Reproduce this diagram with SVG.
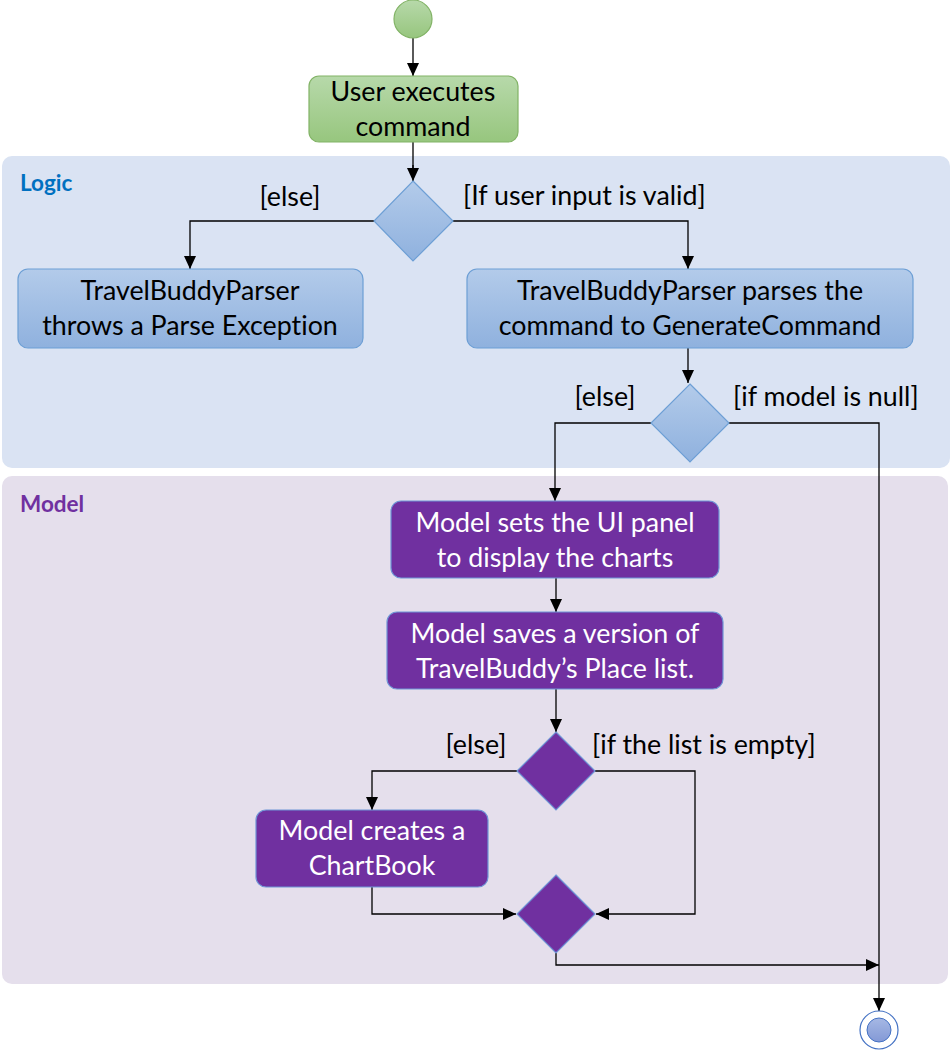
<svg xmlns="http://www.w3.org/2000/svg" width="951" height="1051" viewBox="0 0 951 1051">
<defs>
<linearGradient id="gGreen" x1="0" y1="0" x2="0" y2="1"><stop offset="0" stop-color="#b7d9aa"/><stop offset="1" stop-color="#97c67e"/></linearGradient>
<linearGradient id="gBlue" x1="0" y1="0" x2="0" y2="1"><stop offset="0" stop-color="#b3cbea"/><stop offset="1" stop-color="#8fb1de"/></linearGradient>
<linearGradient id="gEnd" x1="0" y1="0" x2="0" y2="1"><stop offset="0" stop-color="#a6b8e4"/><stop offset="1" stop-color="#8399d6"/></linearGradient>
<marker id="arr" markerUnits="userSpaceOnUse" markerWidth="14" markerHeight="14" viewBox="0 0 14 14" refX="13" refY="7" orient="auto">
<path d="M0,1 L13,7 L0,13 z" fill="#000"/>
</marker>
<style>
.t{font-family:"Lato","Open Sans",sans-serif;font-size:26.8px;fill:#000;text-anchor:middle;font-variant-ligatures:none}
.w{fill:#fff}
.lbl{font-family:"Lato","Open Sans",sans-serif;font-size:26.8px;fill:#000}
.lane{font-family:"Lato","Open Sans",sans-serif;font-size:22.5px;font-weight:bold}
.c{fill:none;stroke:#000;stroke-width:1.3}
.ca{fill:none;stroke:#000;stroke-width:1.3;marker-end:url(#arr)}
.blue{fill:url(#gBlue);stroke:#6d9fd5;stroke-width:1.2}
.purple{fill:#7030a0;stroke:#6f95d6;stroke-width:1.2}
</style>
</defs>
<g id="lane-logic">
<rect x="2" y="156" width="948" height="312" rx="10" fill="#dae3f3"/>
<text class="lane" x="20" y="191" fill="#0070c0">Logic</text>
</g>
<g id="lane-model">
<rect x="2" y="476" width="946" height="508" rx="10" fill="#e5dfec"/>
<text class="lane" x="20" y="512" fill="#7030a0">Model</text>
</g>
<g id="connectors">
<line class="ca" x1="413" y1="38" x2="413" y2="76"/>
<line class="c" x1="413" y1="142" x2="413" y2="170"/>
<line class="ca" x1="413" y1="165" x2="413" y2="181"/>
<polyline class="ca" points="374,221 190,221 190,269"/>
<polyline class="ca" points="453,221 688,221 688,269"/>
<line class="ca" x1="688" y1="348" x2="688" y2="383"/>
<polyline class="ca" points="651,423 555,423 555,501"/>
<polyline class="ca" points="729,423 879,423 879,1011"/>
<line class="ca" x1="556" y1="578" x2="556" y2="612"/>
<line class="ca" x1="556" y1="689" x2="556" y2="732"/>
<polyline class="ca" points="517,771 372,771 372,810"/>
<polyline class="ca" points="595,771 695,771 695,914 596,914"/>
<polyline class="ca" points="372,887 372,914 516,914"/>
<polyline class="ca" points="556,953 556,965 879,965"/>
<text class="lbl" x="290" y="206" text-anchor="middle">[else]</text>
<text class="lbl" x="463" y="205">[If user input is valid]</text>
<text class="lbl" x="605" y="406" text-anchor="middle">[else]</text>
<text class="lbl" x="733" y="406">[if model is null]</text>
<text class="lbl" x="476" y="754" text-anchor="middle">[else]</text>
<text class="lbl" x="592" y="754">[if the list is empty]</text>
</g>
<g id="start"><circle cx="413" cy="19" r="19" fill="url(#gGreen)" stroke="#82b366" stroke-width="1.2"/></g>
<g id="user-executes">
<rect x="309" y="76" width="209" height="66" rx="10" fill="url(#gGreen)" stroke="#82b366" stroke-width="1.2"/>
<text class="t" x="413" y="101">User executes</text>
<text class="t" x="413" y="136">command</text>
</g>
<g id="decision-valid"><polygon class="blue" points="413,181 453,221 413,261 374,221"/></g>
<g id="parse-exception">
<rect class="blue" x="18" y="269" width="345" height="79" rx="10"/>
<text class="t" x="190" y="300">TravelBuddyParser</text>
<text class="t" x="190" y="335">throws a Parse Exception</text>
</g>
<g id="parse-command">
<rect class="blue" x="467" y="269" width="446" height="79" rx="10"/>
<text class="t" x="690" y="300">TravelBuddyParser parses the</text>
<text class="t" x="690" y="335">command to GenerateCommand</text>
</g>
<g id="decision-model"><polygon class="blue" points="690,384 729,423 690,462 651,423"/></g>
<g id="set-ui-panel">
<rect class="purple" x="391" y="501" width="328" height="77" rx="10"/>
<text class="t w" x="555" y="532">Model sets the UI panel</text>
<text class="t w" x="555" y="567">to display the charts</text>
</g>
<g id="save-version">
<rect class="purple" x="387" y="612" width="336" height="77" rx="10"/>
<text class="t w" x="555" y="643">Model saves a version of</text>
<text class="t w" x="555" y="678">TravelBuddy’s Place list.</text>
</g>
<g id="decision-empty"><polygon class="purple" points="556,732 595,771 556,810 517,771"/></g>
<g id="create-chartbook">
<rect class="purple" x="256" y="810" width="232" height="77" rx="10"/>
<text class="t w" x="372" y="840">Model creates a</text>
<text class="t w" x="372" y="875">ChartBook</text>
</g>
<g id="merge"><polygon class="purple" points="556,875 595,914 556,953 517,914"/></g>
<g id="end">
<circle cx="879" cy="1030" r="19" fill="#fff" stroke="#4472c4" stroke-width="1.2"/>
<circle cx="879" cy="1030" r="12" fill="url(#gEnd)" stroke="#4472c4" stroke-width="1"/>
</g>
</svg>
